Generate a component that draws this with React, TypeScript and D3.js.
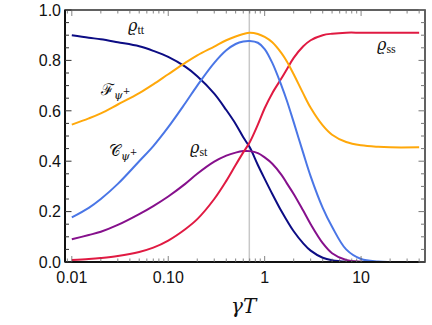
import React from "react";
import * as d3 from "d3";

const gammaT = [0.01, 0.015, 0.02, 0.03, 0.05, 0.07, 0.1, 0.15, 0.2, 0.3, 0.4, 0.5, 0.6, 0.7, 0.85, 1, 1.2, 1.5, 1.7, 2, 2.5, 3, 4, 5, 7, 10, 15, 20, 40];
const rhoTT = [0.9, 0.89, 0.884, 0.872, 0.856, 0.838, 0.814, 0.775, 0.737, 0.668, 0.603, 0.548, 0.495, 0.455, 0.385, 0.33, 0.27, 0.2, 0.165, 0.122, 0.075, 0.045, 0.017, 0.007, 0.001, 0, 0, 0, 0];
const rhoSS = [0.008, 0.012, 0.016, 0.024, 0.04, 0.057, 0.085, 0.13, 0.17, 0.25, 0.322, 0.385, 0.435, 0.475, 0.545, 0.61, 0.67, 0.73, 0.765, 0.81, 0.855, 0.88, 0.9, 0.906, 0.91, 0.91, 0.91, 0.91, 0.91];
const rhoST = [0.09, 0.107, 0.12, 0.147, 0.19, 0.222, 0.26, 0.31, 0.35, 0.398, 0.422, 0.434, 0.44, 0.44, 0.432, 0.415, 0.39, 0.345, 0.312, 0.27, 0.205, 0.15, 0.075, 0.035, 0.008, 0.001, 0, 0, 0];
const concurrence = [0.177, 0.215, 0.25, 0.31, 0.4, 0.46, 0.535, 0.63, 0.7, 0.79, 0.84, 0.865, 0.875, 0.877, 0.87, 0.845, 0.79, 0.698, 0.64, 0.555, 0.435, 0.34, 0.215, 0.14, 0.05, 0.012, 0.002, 0, 0];
const fidelity = [0.545, 0.57, 0.59, 0.625, 0.67, 0.705, 0.745, 0.79, 0.82, 0.855, 0.88, 0.895, 0.905, 0.91, 0.905, 0.893, 0.872, 0.828, 0.796, 0.745, 0.67, 0.612, 0.542, 0.505, 0.476, 0.463, 0.457, 0.455, 0.455];

const yTicks = [0, 0.2, 0.4, 0.6, 0.8, 1.0];
const xTickLabels = ["0.01", "0.10", "1", "10"];
const xTickValues = [0.01, 0.1, 1, 10];
const markerX = Math.LN2;

const series = [
  { name: "rhoTT", values: rhoTT, color: "#0c0c84" },
  { name: "rhoST", values: rhoST, color: "#86108c" },
  { name: "rhoSS", values: rhoSS, color: "#e01a42" },
  { name: "concurrence", values: concurrence, color: "#4a76e6" },
  { name: "fidelity", values: fidelity, color: "#ffa80a" },
];

const W = 432;
const H = 325;
const left = 65, right = 425, top = 10, bottom = 262;

export default function App() {
  const x = d3.scaleLog().domain([0.0085, 46]).range([left, right]);
  const y = d3.scaleLinear().domain([0, 1]).range([bottom, top]);

  const line = d3
    .line<number>()
    .x((_, i) => x(gammaT[i]))
    .y((d) => y(d))
    .curve(d3.curveCatmullRom.alpha(0.5));

  // log minor ticks across the x domain
  const xMinor: number[] = [];
  for (let e = -3; e <= 1; e++) {
    for (let m = 1; m <= 9; m++) {
      const v = m * Math.pow(10, e);
      if (v >= 0.0085 && v <= 46) xMinor.push(v);
    }
  }
  const yMinor = d3.range(0, 1.0001, 0.05);
  const isMajorY = (v: number) => Math.abs(v * 5 - Math.round(v * 5)) < 1e-6;
  const isMajorX = (v: number) => Math.abs(Math.log10(v) - Math.round(Math.log10(v))) < 1e-6;

  const frame = "#3a3a3a";
  const tickFont = "'Liberation Sans', Arial, sans-serif";
  const serif = "'DejaVu Serif', 'Liberation Serif', serif";

  return (
    <svg width={W} height={H} style={{ position: "absolute", left: 0, top: 0 }}>
      <rect width={W} height={H} fill="#fff" />
      <line x1={x(markerX)} x2={x(markerX)} y1={top} y2={bottom} stroke="#c8c8c8" strokeWidth={1.5} />

      {series.map((s) => (
        <path key={s.name} d={line(s.values) || ""} fill="none" stroke={s.color} strokeWidth={2} />
      ))}

      {/* frame */}
      <rect x={left} y={top} width={right - left} height={bottom - top} fill="none" stroke={frame} strokeWidth={1.6} />
      <line x1={left} x2={left} y1={top} y2={bottom} stroke="#111" strokeWidth={2} />
      <line x1={left} x2={right} y1={bottom} y2={bottom} stroke="#111" strokeWidth={2} />

      {/* x ticks, bottom and top */}
      {xMinor.map((v) => {
        const len = isMajorX(v) ? 6 : 3.5;
        return (
          <g key={"xt" + v} stroke="#666" strokeWidth={0.8}>
            <line x1={x(v)} x2={x(v)} y1={bottom} y2={bottom - len} />
            <line x1={x(v)} x2={x(v)} y1={top} y2={top + len} />
          </g>
        );
      })}
      {/* y ticks, left and right */}
      {yMinor.map((v) => {
        const len = isMajorY(v) ? 6.5 : 4;
        return (
          <g key={"yt" + v} stroke="#333" strokeWidth={1}>
            <line x1={left} x2={left + len} y1={y(v)} y2={y(v)} />
            <line x1={right} x2={right - len} y1={y(v)} y2={y(v)} stroke="#777" />
          </g>
        );
      })}

      {yTicks.map((v) => (
        <text key={"yl" + v} x={61} y={y(v)} dy="0.36em" textAnchor="end" fontFamily={tickFont} fontSize={16} fill="#111">
          {v.toFixed(1)}
        </text>
      ))}
      {xTickValues.map((v, i) => (
        <text key={"xl" + v} x={x(v)} y={283} textAnchor="middle" fontFamily={tickFont} fontSize={16} fill="#111">
          {xTickLabels[i]}
        </text>
      ))}

      <text x={231} y={313} fontFamily={serif} fontStyle="italic" fontSize={20} fill="#111">
        γT
      </text>

      {/* curve labels */}
      <text x={128} y={31} fontFamily={serif} fontSize={16} fill="#111">
        <tspan fontStyle="italic">ϱ</tspan>
        <tspan fontFamily="'Liberation Serif', serif" fontSize={12} dy={3}>tt</tspan>
      </text>
      <text x={190} y={153} fontFamily={serif} fontSize={16} fill="#111">
        <tspan fontStyle="italic">ϱ</tspan>
        <tspan fontFamily="'Liberation Serif', serif" fontSize={12} dy={3}>st</tspan>
      </text>
      <text x={377} y={50} fontFamily={serif} fontSize={16} fill="#111">
        <tspan fontStyle="italic">ϱ</tspan>
        <tspan fontFamily="'Liberation Serif', serif" fontSize={12} dy={3}>ss</tspan>
      </text>
      <text x={101} y={95} fontFamily={serif} fontSize={16} fill="#111">
        <tspan>ℱ</tspan>
        <tspan fontStyle="italic" fontSize={11} dy={4}>ψ</tspan>
        <tspan fontSize={9} dy={-5}>+</tspan>
      </text>
      <text x={109} y={156} fontFamily={serif} fontSize={16} fill="#111">
        <tspan>𝒞</tspan>
        <tspan fontStyle="italic" fontSize={11} dy={4}>ψ</tspan>
        <tspan fontSize={9} dy={-5}>+</tspan>
      </text>
    </svg>
  );
}
